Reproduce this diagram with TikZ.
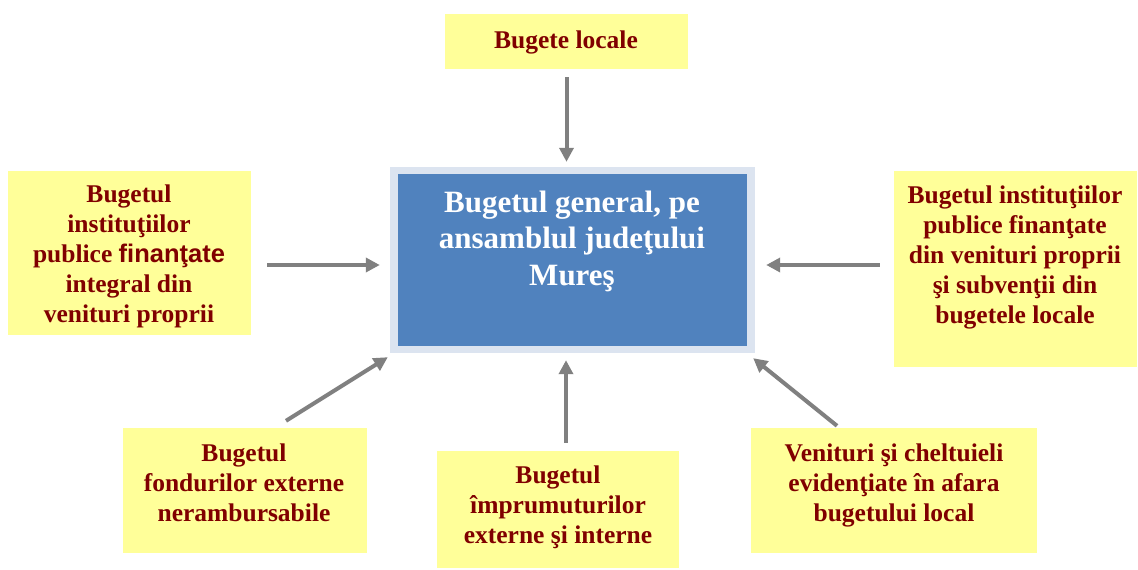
\documentclass[tikz,border=0pt]{standalone}
\usepackage{fontspec}
\setmainfont{Liberation Serif}
\newfontfamily\arialf{Liberation Sans}
\usetikzlibrary{arrows.meta,calc}
\definecolor{ybg}{HTML}{FFFF99}
\definecolor{dred}{HTML}{800000}
\definecolor{cblue}{HTML}{5082BE}
\definecolor{cedge}{HTML}{DCE4F0}
\definecolor{agray}{HTML}{808080}
\tikzset{
  ybox/.style={fill=ybg, draw=none, inner sep=0pt},
  ytext/.style={text=dred, align=center, inner sep=0pt, font=\fontsize{25.5}{30}\selectfont\bfseries},
  ctext/.style={text=white, align=center, inner sep=0pt, font=\fontsize{31}{36.5}\selectfont\bfseries},
  garrow/.style={draw=agray, line width=4pt, -{Triangle[length=14pt,width=14pt]}}
}
\begin{document}
\begin{tikzpicture}[x=1pt,y=-1pt]
\useasboundingbox (0,0) rectangle (1138,570);
\fill[white] (0,0) rectangle (1138,570);
% boxes
\node[ybox, minimum width=243pt, minimum height=55pt] (top) at (566.5,41.5) {};
\node[ybox, minimum width=243pt, minimum height=164pt] (lft) at (129.5,253) {};
\node[ybox, minimum width=243pt, minimum height=196pt] (rgt) at (1015.5,269) {};
\node[ybox, minimum width=244pt, minimum height=125pt] (bl) at (245,490.5) {};
\node[ybox, minimum width=242pt, minimum height=117pt] (bm) at (558,509.5) {};
\node[ybox, minimum width=286pt, minimum height=125pt] (br) at (894,490.5) {};
\node[fill=cedge, inner sep=0pt, minimum width=365pt, minimum height=186pt] (cen) at (572.5,260) {};
\node[fill=cblue, inner sep=0pt, minimum width=349pt, minimum height=172pt] (cin) at (572.5,260) {};
% texts
\node[ytext] (topt) at (566,42) {Bugete locale};
\node[ytext] (lftt) at (129,256) {Bugetul\\instituţiilor\\publice {\arialf finanţate}\\integral din\\venituri proprii};
\node[ytext] (rgtt) at (1015,257) {Bugetul instituţiilor\\publice finanţate\\din venituri proprii\\şi subvenţii din\\bugetele locale};
\node[ytext] (blt) at (244,483) {Bugetul\\fondurilor externe\\nerambursabile};
\node[ytext] (bmt) at (558,507) {Bugetul\\împrumuturilor\\externe şi interne};
\node[ytext] (brt) at (894,485) {Venituri şi cheltuieli\\evidenţiate în afara\\bugetului local};
\node[ctext] (cent) at (572,241) {Bugetul general, pe\\ansamblul judeţului\\Mureş};
% arrows
\draw[garrow] ($(top.south)+(0,8)$) -- ($(top.south |- cen.north)+(0,-5)$);
\draw[garrow] ($(lft.east)+(16,12)$) -- ($(cen.west)+(-10,5)$);
\draw[garrow] ($(rgt.west)+(-14,-4)$) -- ($(cen.east)+(11,5)$);
\draw[garrow] ($(bm.north)+(8,-8)$) -- ($(bm.north |- cen.south)+(8,7)$);
\draw[garrow] ($(bl.north)+(41,-7)$) -- ($(cen.south west)+(-2,4)$);
\draw[garrow] ($(br.north)+(-57,-2)$) -- ($(cen.south east)+(-2,5)$);
\end{tikzpicture}
\end{document}
